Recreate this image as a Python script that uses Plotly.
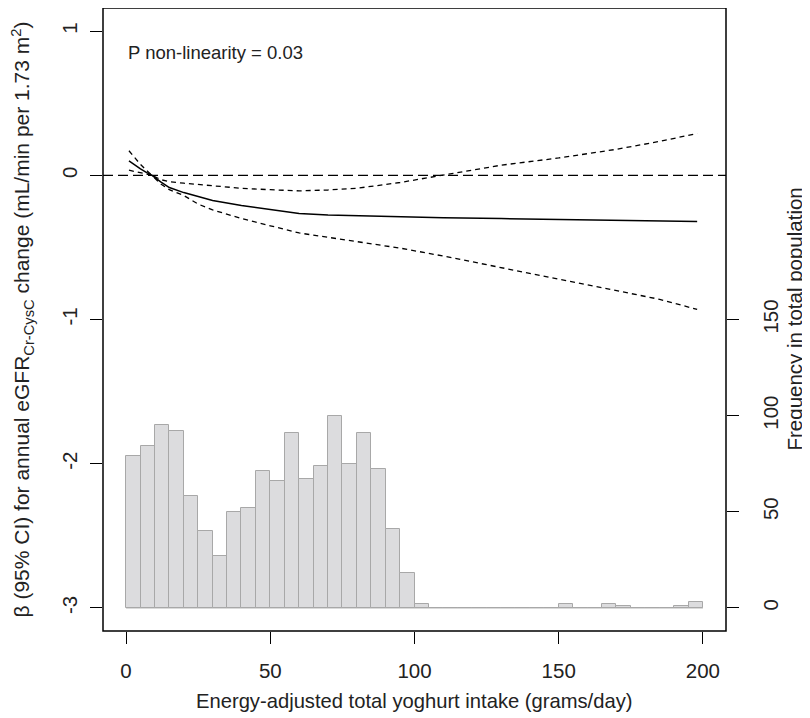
import plotly.graph_objects as go

# ---- data ----
x_curve = [1, 3, 5, 7, 9, 12, 15, 20, 25, 30, 40, 50, 60, 70, 80, 95, 110, 130, 150, 170, 185, 198]
estimate = [0.10, 0.07, 0.045, 0.02, 0.0, -0.045, -0.085, -0.12, -0.15, -0.175, -0.21, -0.24,
            -0.265, -0.275, -0.28, -0.288, -0.295, -0.30, -0.305, -0.31, -0.315, -0.32]
upper_ci = [0.17, 0.12, 0.075, 0.035, 0.0, -0.03, -0.045, -0.055, -0.065, -0.075, -0.09, -0.10,
            -0.108, -0.102, -0.09, -0.05, 0.0, 0.07, 0.12, 0.18, 0.235, 0.29]
lower_ci = [0.035, 0.025, 0.015, 0.008, 0.0, -0.06, -0.10, -0.14, -0.20, -0.24, -0.30, -0.35,
            -0.40, -0.43, -0.46, -0.505, -0.56, -0.64, -0.72, -0.80, -0.86, -0.93]

bin_left = [0, 5, 10, 15, 20, 25, 30, 35, 40, 45, 50, 55, 60, 65, 70, 75, 80, 85, 90, 95,
            100, 105, 110, 115, 120, 125, 130, 135, 140, 145, 150, 155, 160, 165, 170, 175,
            180, 185, 190, 195]
counts = [79, 84, 95, 92, 58, 40, 27, 50, 52, 71, 66, 91, 67, 74, 100, 75, 91, 72, 41, 18,
          2, 0, 0, 0, 0, 0, 0, 0, 0, 0, 2, 0, 0, 2, 1, 0, 0, 0, 1, 3]
bin_width = 5

x_ticks = [0, 50, 100, 150, 200]
y_ticks = [-3, -2, -1, 0, 1]
freq_ticks = [0, 50, 100, 150]
p_text = "P non-linearity = 0.03"

# ---- scales ----
x_range = [-8, 208]
y_range = [-3.16, 1.16]
counts_per_unit = 75.0  # right-axis counts per left-axis unit, 0 count at y = -3
freq_range = [(y_range[0] + 3) * counts_per_unit, (y_range[1] + 3) * counts_per_unit]

FONT = "Liberation Sans, Arial, sans-serif"
AX = 21
fig = go.Figure()

# histogram
fig.add_trace(go.Bar(
    x=[b + bin_width / 2 for b in bin_left], y=counts, width=bin_width,
    marker=dict(color="#dcdcde", line=dict(color="#a8a8a8", width=1)),
    yaxis="y2", showlegend=False, hoverinfo="skip"))
fig.add_trace(go.Scatter(
    x=[bin_left[0], bin_left[-1] + bin_width], y=[0, 0], mode="lines",
    line=dict(color="#a8a8a8", width=1), yaxis="y2", showlegend=False, hoverinfo="skip"))

# curves
fig.add_trace(go.Scatter(x=x_curve, y=upper_ci, mode="lines",
                         line=dict(color="black", width=1.3, dash="5px,4px"), showlegend=False))
fig.add_trace(go.Scatter(x=x_curve, y=lower_ci, mode="lines",
                         line=dict(color="black", width=1.3, dash="5px,4px"), showlegend=False))
fig.add_trace(go.Scatter(x=x_curve, y=estimate, mode="lines",
                         line=dict(color="black", width=1.5), showlegend=False))

# reference line at 0
fig.add_shape(type="line", xref="paper", x0=0, x1=1, yref="y", y0=0, y1=0,
              line=dict(color="black", width=1.3, dash="10px,5px"))
# box
fig.add_shape(type="rect", xref="paper", yref="paper", x0=0, x1=1, y0=0, y1=1,
              line=dict(color="black", width=1.5))

fig.add_annotation(x=x_ticks[0], y=0.85, xref="x", yref="y", text=p_text, showarrow=False,
                   xanchor="left", yanchor="middle", font=dict(size=18.5, color="#222"))

# axis titles (plot area: 623 x 623 px)
fig.add_annotation(xref="paper", yref="paper", x=0.5, y=-70 / 623,
                   text="Energy-adjusted total yoghurt intake (grams/day)", showarrow=False,
                   xanchor="center", yanchor="middle", font=dict(size=20.2, color="#222"))
fig.add_annotation(xref="paper", yref="paper", x=(22 - 103) / 623, y=0.5, textangle=-90,
                   text="β (95% CI) for annual eGFR<sub>Cr-CysC</sub> change (mL/min per 1.73 m<sup>2</sup>)",
                   showarrow=False, xanchor="center", yanchor="middle",
                   font=dict(size=AX, color="#222"))
fig.add_annotation(xref="paper", yref="paper", x=(794 - 103) / 623, y=0.5, textangle=-90,
                   text="Frequency in total population", showarrow=False,
                   xanchor="center", yanchor="middle", font=dict(size=20.5, color="#222"))

axis_common = dict(showgrid=False, zeroline=False, showline=False, ticks="outside",
                   ticklen=12, tickwidth=1.3, tickcolor="black",
                   tickfont=dict(size=20.5, color="#222", family=FONT))

# the page body adds an 8 px offset, so the figure is 8 px smaller each way
fig.update_layout(
    width=802, height=710,
    margin=dict(l=95, r=84, t=0, b=87),
    paper_bgcolor="white", plot_bgcolor="white",
    font=dict(family=FONT, color="#222"),
    bargap=0,
    xaxis=dict(range=x_range, tickvals=x_ticks, ticktext=[str(v) for v in x_ticks],
               ticklabelstandoff=9, **axis_common),
    yaxis=dict(range=y_range, tickvals=y_ticks, ticktext=[str(v) for v in y_ticks],
               tickangle=-90, ticklabelstandoff=5, **axis_common),
    yaxis2=dict(range=freq_range, tickvals=freq_ticks, ticktext=[str(v) for v in freq_ticks],
                overlaying="y", side="right", tickangle=-90, ticklabelstandoff=14,
                **axis_common),
)

fig.write_html("out.html")
